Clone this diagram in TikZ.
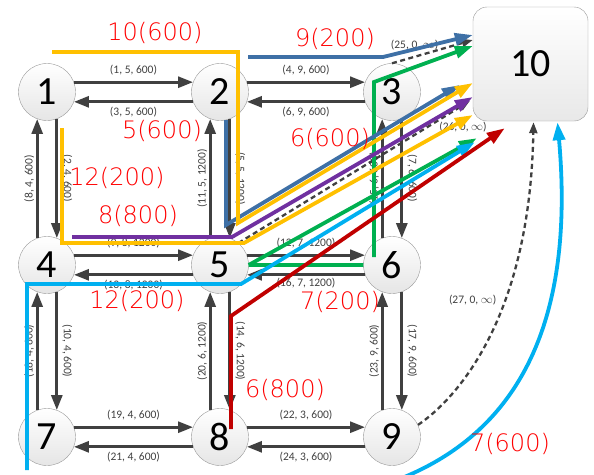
\documentclass[tikz,border=0pt]{standalone}
\usepackage{fontspec}
\setmainfont{Carlito}
\newfontfamily\loadfont{DejaVu Sans ExtraLight}
\usetikzlibrary{arrows.meta, calc, positioning}
\definecolor{linkgray}{RGB}{64,64,64}
\definecolor{routeyellow}{RGB}{255,192,0}
\definecolor{routeblue}{RGB}{62,112,166}
\definecolor{routepurple}{RGB}{112,48,160}
\definecolor{routegreen}{RGB}{0,176,80}
\definecolor{routecyan}{RGB}{0,176,240}
\definecolor{routered}{RGB}{192,0,0}

\begin{document}
\begin{tikzpicture}[x=1pt, y=-1pt,
    station/.style={circle, draw=gray!80, top color=white, bottom color=gray!20, minimum size=57pt, inner sep=0pt, font=\fontsize{40}{40}\selectfont},
    sink/.style={rectangle, rounded corners=14pt, draw=gray!80, top color=white, bottom color=gray!18, minimum width=115pt, minimum height=114pt, inner sep=0pt, font=\fontsize{40}{40}\selectfont},
    link/.style={draw=linkgray, line width=2.8pt, -{Triangle[length=15pt,width=11pt]}},
    cost/.style={font=\fontsize{11.5}{11.5}\selectfont, text=linkgray, inner sep=0pt},
    costl/.style={cost, rotate=90, anchor=south, inner sep=1.5pt},
    costr/.style={cost, rotate=-90, anchor=south, inner sep=4pt},
    virtual/.style={draw=linkgray, line width=2.3pt, dash pattern=on 5pt off 3.5pt, -{Triangle[length=11pt,width=8pt]}},
    route/.style={line width=3.8pt, -{Triangle[length=18pt,width=12pt]}},
    load/.style={text=red, font=\loadfont\fontsize{24}{24}\selectfont, inner sep=0pt},
]
\useasboundingbox (0,0) rectangle (594,474);

% stations
\node[station] (n1) at (47,92) {1};
\node[station] (n2) at (220,92) {2};
\node[station] (n3) at (392,92) {3};
\node[station] (n4) at (47,265) {4};
\node[station] (n5) at (220,265) {5};
\node[station] (n6) at (392,265) {6};
\node[station] (n7) at (47,437) {7};
\node[station] (n8) at (220,437) {8};
\node[station] (n9) at (392,437) {9};
\node[sink] (n10) at (530.5,64) {10};

% horizontal links
\draw[link] (n1.20) -- node[cost, above=6pt]{(1, 5, 600)} (n2.160);
\draw[link] (n2.200) -- node[cost, below=4pt]{(3, 5, 600)} (n1.-20);
\draw[link] (n2.20) -- node[cost, above=6pt]{(4, 9, 600)} (n3.160);
\draw[link] (n3.200) -- node[cost, below=4pt]{(6, 9, 600)} (n2.-20);
\draw[link] (n4.20) -- node[cost, above=6pt]{(9, 8, 1200)} (n5.160);
\draw[link] (n5.200) -- node[cost, below=4pt]{(13, 8, 1200)} (n4.-20);
\draw[link] (n5.20) -- node[cost, above=6pt]{(12, 7, 1200)} (n6.160);
\draw[link] (n6.200) -- node[cost, below=2pt]{(16, 7, 1200)} (n5.-20);
\draw[link] (n7.20) -- node[cost, above=6pt]{(19, 4, 600)} (n8.160);
\draw[link] (n8.200) -- node[cost, below=4pt]{(21, 4, 600)} (n7.-20);
\draw[link] (n8.20) -- node[cost, above=6pt]{(22, 3, 600)} (n9.160);
\draw[link] (n9.200) -- node[cost, below=4pt]{(24, 3, 600)} (n8.-20);

% vertical links
\draw[link] (n4.110) -- node[costl]{(8, 4, 600)} (n1.250);
\draw[link] (n1.290) -- node[costr]{(2, 4, 600)} (n4.70);
\draw[link] (n5.110) -- node[costl]{(11, 5, 1200)} (n2.250);
\draw[link] (n2.290) -- node[costr]{(5, 5, 1200)} (n5.70);
\draw[link] (n6.110) -- node[costl]{(15, 6, 600)} (n3.250);
\draw[link] (n3.290) -- node[costr]{(7, 6, 600)} (n6.70);
\draw[link] (n7.110) -- node[costl]{(18, 4, 600)} (n4.250);
\draw[link] (n4.290) -- node[costr]{(10, 4, 600)} (n7.70);
\draw[link] (n8.110) -- node[costl]{(20, 6, 1200)} (n5.250);
\draw[link] (n5.290) -- node[costr]{(14, 6, 1200)} (n8.70);
\draw[link] (n9.110) -- node[costl]{(23, 9, 600)} (n6.250);
\draw[link] (n6.290) -- node[costr]{(17, 9, 600)} (n9.70);

% virtual links to the sink
\draw[virtual] (n3.north) -- node[cost, pos=0.28, above=6pt]{(25, 0, $\infty$)} ($(n10.west)+(0,-24)$);
\draw[virtual] (n5.50) -- ($(n10.west)+(-3,37)$);
\node[cost] (c26) at (463,127) {(26, 0, $\infty$)};
\draw[virtual] (n9.25) .. controls (455,400) and (530,320) .. node[cost, pos=0.62, left=7pt]{(27, 0, $\infty$)} ($(n10.south)+(3,1)$);

% routes
\coordinate (ytop) at (52,52);
\coordinate (btop) at (248,57);
\coordinate (pstart) at (72,237);
\coordinate (ylow) at (62,128);
\coordinate (cfoot) at (27,470);
\coordinate (cyanfoot) at (402,478);
\draw[route, routeblue] (btop) -- (383,57) -- ($(n10.west)+(0,-29)$);
\draw[route, routegreen] (n5.east) -- (n6.west) ($(n6)+(-18,-8)$) -- (374,82) -- ($(n10.west)+(0,-18)$);
\draw[route, routeblue] (n2.-78) -- (226,225) -- ($(n10.west)+(-13,21)$);
\draw[route, routeyellow] (ytop) -- (238,52) -- (238,223) -- ($(n10.west)+(0,19)$);
\draw[route, routepurple] (pstart) -- (232,237) -- ($(n10.west)+(0,33)$);
\draw[route, routeyellow] (ylow) -- (62,243) -- (244,243) -- ($(n10.west)+(0,51)$);
\draw[route, routegreen] (n5.east) -- ($(n10.south west)+(4,17)$);
\draw[route, routecyan] (cfoot) -- (27,284) -- (241,284) -- ($(n10.south west)+(2,21)$);
\draw[route, routered] ($(n8)+(11,-8)$) -- (231,316) -- ($(n10.south west)+(32,7)$);
\draw[route, routecyan] (cyanfoot) .. controls (520,430) and (575,320) .. ($(n10.south)+(27,1)$);

% loads
\node[load] (l1) at (155,33) {10(600)};
\node[load] (l2) at (335,39) {9(200)};
\node[load] (l3) at (162,131) {5(600)};
\node[load] (l4) at (330,139) {6(600)};
\node[load] (l5) at (117,178) {12(200)};
\node[load] (l6) at (138,216) {8(800)};
\node[load] (l7) at (137,301) {12(200)};
\node[load] (l8) at (340,302) {7(200)};
\node[load] (l9) at (285,390) {6(800)};
\node[load] (l10) at (510,444) {7(600)};
\end{tikzpicture}
\end{document}
